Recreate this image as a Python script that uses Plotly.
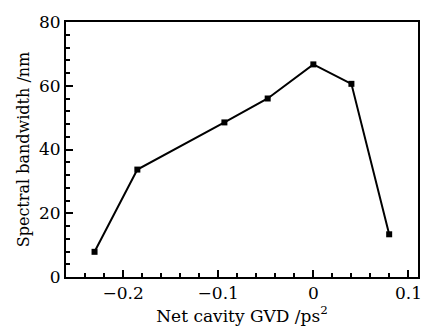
import plotly.graph_objects as go

gvd = [-0.23, -0.185, -0.0935, -0.048, 0.0, 0.04, 0.0797]
bandwidth = [7.9, 33.7, 48.5, 56.0, 66.7, 60.6, 13.4]

x_ticks = [-0.2, -0.1, 0, 0.1]
x_tick_labels = ["\u22120.2", "\u22120.1", "0", "0.1"]
y_ticks = [0, 20, 40, 60, 80]

fig = go.Figure()
fig.add_trace(go.Scatter(
    x=gvd, y=bandwidth, mode="lines+markers",
    line=dict(color="black", width=2),
    marker=dict(symbol="square", size=6, color="black"),
    showlegend=False,
))

font = dict(family="DejaVu Serif", size=17, color="black")
fig.update_layout(
    width=434, height=331,
    margin=dict(l=66, r=15, t=15, b=54),
    paper_bgcolor="white", plot_bgcolor="white",
    font=font,
    xaxis=dict(
        range=[-0.26, 0.11], tickvals=x_ticks, ticktext=x_tick_labels,
        ticks="inside", ticklen=7, tickwidth=1.5, tickcolor="black",
        tickfont=dict(family="DejaVu Serif", size=17, color="black"),
        minor=dict(dtick=0.02, tick0=0, ticks="inside", ticklen=4, tickwidth=1.5, tickcolor="black"),
        showline=True, linecolor="black", linewidth=2, mirror=True,
        showgrid=False, zeroline=False,
        title=dict(text="Net cavity GVD /ps<sup>2</sup>", standoff=3,
                   font=dict(family="DejaVu Serif", size=17, color="black")),
    ),
    yaxis=dict(
        range=[0, 80], tickvals=y_ticks,
        ticks="inside", ticklen=7, tickwidth=1.5, tickcolor="black",
        tickfont=dict(family="DejaVu Serif", size=17, color="black"),
        minor=dict(dtick=4, tick0=0, ticks="inside", ticklen=4, tickwidth=1.5, tickcolor="black"),
        showline=True, linecolor="black", linewidth=2, mirror=True,
        showgrid=False, zeroline=False,
        title=dict(text="Spectral bandwidth /nm", standoff=5,
                   font=dict(family="DejaVu Serif", size=16, color="black")),
    ),
)
fig.write_html("out.html")
